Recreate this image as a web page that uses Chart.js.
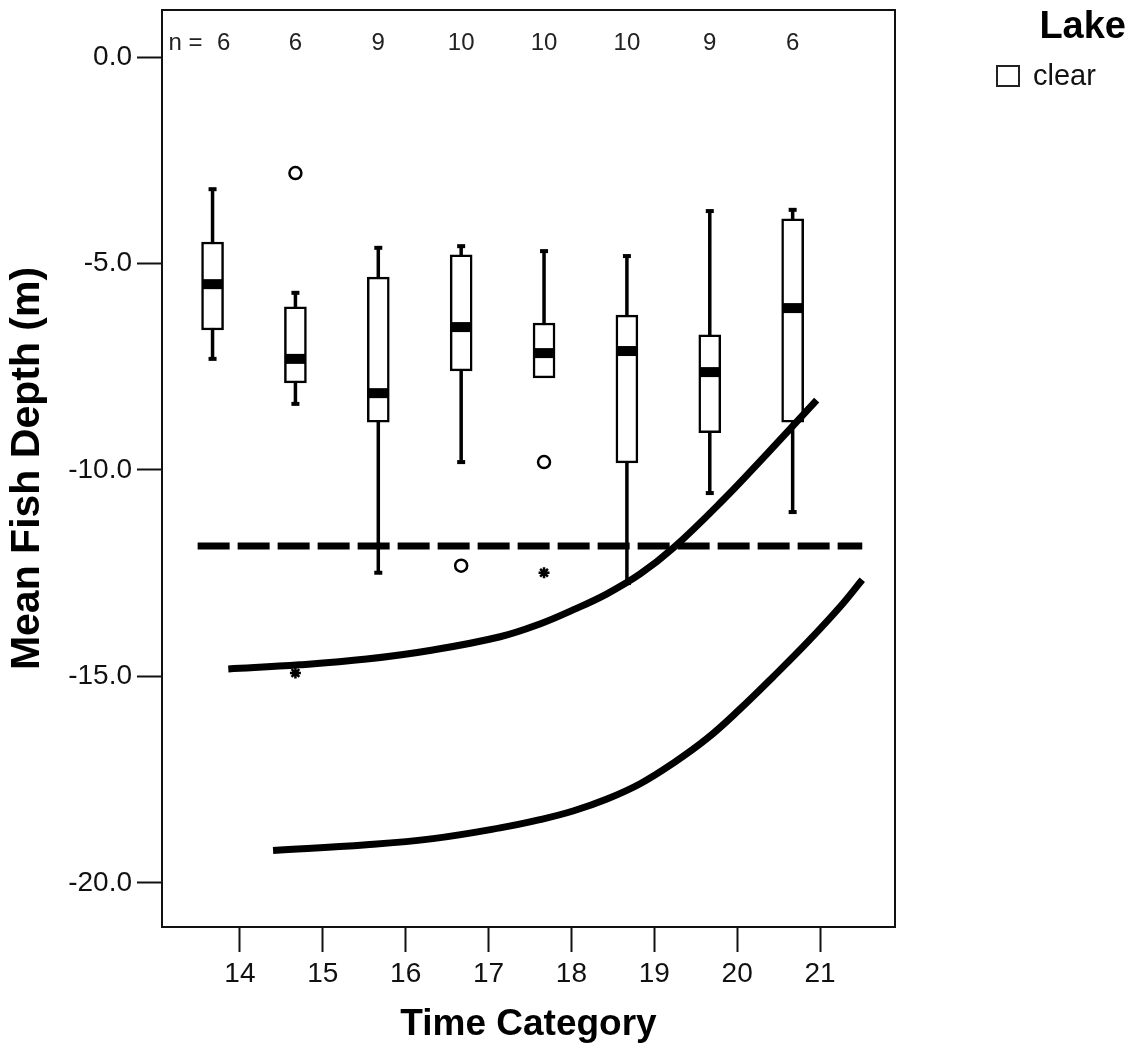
<!DOCTYPE html>
<html>
<head>
<meta charset="utf-8">
<script src="https://cdn.jsdelivr.net/npm/chart.js@4.4.1/dist/chart.umd.min.js"></script>
<style>
  html, body { margin: 0; padding: 0; background: #fff; }
  #wrap { width: 1138px; height: 1052px; }
</style>
</head>
<body>
<div id="wrap"><canvas id="fishChart" width="1138" height="1052"></canvas></div>
<script>
// Tick labels
const timeTicks = [14, 15, 16, 17, 18, 19, 20, 21];
const depthTicks = [0, -5, -10, -15, -20];

// Box plot per time category (values in m)
const boxPos = [13.67, 14.67, 15.67, 16.67, 17.67, 18.67, 19.67, 20.67];
const counts = [6, 6, 9, 10, 10, 10, 9, 6];
const whiskerMax = [-3.20, -5.71, -4.62, -4.58, -4.70, -4.82, -3.73, -3.70];
const q3 = [-4.48, -6.05, -5.33, -4.79, -6.44, -6.25, -6.73, -3.92];
const median = [-5.50, -7.31, -8.14, -6.54, -7.17, -7.12, -7.63, -6.08];
const q1 = [-6.61, -7.89, -8.84, -7.60, -7.77, -9.83, -9.10, -8.84];
const whiskerMin = [-7.31, -8.40, -12.49, -9.81, -7.77, -12.74, -10.56, -11.02];

// Outliers (o) and extremes (*)
const outlierX = [14.67, 16.67, 17.67];
const outlierY = [-2.81, -12.32, -9.81];
const extremeX = [14.67, 17.67];
const extremeY = [-14.92, -12.49];

// Dashed reference depth
const refX = [13.49, 21.51];
const refY = [-11.84, -11.84];

// Upper curve
const upperX = [13.86, 14.72, 15.53, 16.33, 17.14, 17.62, 18.02, 18.43, 18.83, 19.23, 19.83, 20.36, 20.96];
const upperY = [-14.82, -14.72, -14.58, -14.36, -14.04, -13.73, -13.39, -13.00, -12.52, -11.89, -10.73, -9.61, -8.31];

// Lower curve
const lowerX = [14.40, 15.53, 16.33, 17.14, 17.62, 18.02, 18.43, 18.83, 19.23, 19.64, 20.03, 20.43, 20.84, 21.24, 21.51];
const lowerY = [-19.22, -19.08, -18.93, -18.67, -18.47, -18.26, -17.97, -17.60, -17.10, -16.50, -15.80, -15.02, -14.19, -13.32, -12.66];

const FONT = '"Liberation Sans", Arial, Helvetica, sans-serif';
Chart.defaults.font.family = FONT;
Chart.defaults.color = '#111';

const toPoints = (xs, ys) => xs.map((x, i) => ({ x: x, y: ys[i] }));

// whiskers as vertical segments separated by gaps
const whiskerData = boxPos.flatMap((p, i) => [
    { x: p, y: whiskerMin[i] },
    { x: p, y: whiskerMax[i] },
    { x: p, y: null }
]);

const capData = [];
boxPos.forEach((p, i) => {
    if (whiskerMax[i] !== q3[i]) capData.push({ x: p, y: whiskerMax[i] });
    if (whiskerMin[i] !== q1[i]) capData.push({ x: p, y: whiskerMin[i] });
});

// frame, n labels and legend
const extrasPlugin = {
    id: 'extras',
    afterDraw(chart) {
        const { ctx, chartArea: a, scales: { x } } = chart;
        ctx.save();
        ctx.strokeStyle = '#111';
        ctx.lineWidth = 2;
        ctx.strokeRect(a.left, a.top, a.right - a.left, a.bottom - a.top);

        ctx.fillStyle = '#222';
        ctx.font = '24px ' + FONT;
        ctx.textAlign = 'center';
        ctx.textBaseline = 'middle';
        const ny = a.top + 33;
        counts.forEach((n, i) => {
            const px = x.getPixelForValue(boxPos[i]);
            if (i === 0) {
                ctx.fillText('n =', px - 27, ny);
                ctx.fillText(String(n), px + 11, ny);
            } else {
                ctx.fillText(String(n), px, ny);
            }
        });

        // legend
        ctx.fillStyle = '#000';
        ctx.textAlign = 'right';
        ctx.textBaseline = 'alphabetic';
        ctx.font = 'bold 38px ' + FONT;
        ctx.fillText('Lake', 1126, 38);

        ctx.fillStyle = '#fff';
        ctx.fillRect(997, 66, 22, 20);
        ctx.strokeStyle = '#222';
        ctx.lineWidth = 2;
        ctx.strokeRect(997, 66, 22, 20);

        ctx.fillStyle = '#111';
        ctx.textAlign = 'left';
        ctx.font = '29px ' + FONT;
        ctx.fillText(chart.data.datasets[1].label, 1033, 85);
        ctx.restore();
    }
};

const ctx = document.getElementById('fishChart').getContext('2d');
new Chart(ctx, {
    type: 'scatter',
    data: {
        datasets: [
            {
                type: 'line',
                label: 'whiskers',
                data: whiskerData,
                borderColor: '#000',
                borderWidth: 3.5,
                pointRadius: 0,
                spanGaps: false,
                order: 6
            },
            {
                type: 'bar',
                label: 'clear',
                data: boxPos.map((p, i) => ({ x: p, y: [q1[i], q3[i]] })),
                backgroundColor: '#fff',
                borderColor: '#000',
                borderWidth: 2.5,
                borderSkipped: false,
                barThickness: 22,
                order: 5
            },
            {
                label: 'median',
                data: toPoints(boxPos, median),
                pointStyle: 'line',
                pointRadius: 10.5,
                pointBorderWidth: 10,
                pointBorderColor: '#000',
                order: 3
            },
            {
                label: 'caps',
                data: capData,
                pointStyle: 'line',
                pointRadius: 4,
                pointBorderWidth: 4,
                pointBorderColor: '#000',
                order: 3
            },
            {
                label: 'outliers',
                data: toPoints(outlierX, outlierY),
                pointStyle: 'circle',
                pointRadius: 6,
                pointBorderWidth: 2.5,
                pointBorderColor: '#000',
                pointBackgroundColor: '#fff',
                order: 2
            },
            {
                label: 'extremes',
                data: toPoints(extremeX, extremeY),
                pointStyle: 'star',
                pointRadius: 5.5,
                pointBorderWidth: 2.5,
                pointBorderColor: '#000',
                order: 2
            },
            {
                type: 'line',
                label: 'reference',
                data: toPoints(refX, refY),
                borderColor: '#000',
                borderWidth: 7,
                borderDash: [32, 8],
                pointRadius: 0,
                order: 1
            },
            {
                type: 'line',
                label: 'upper',
                data: toPoints(upperX, upperY),
                borderColor: '#000',
                borderWidth: 7,
                tension: 0.4,
                pointRadius: 0,
                order: 1
            },
            {
                type: 'line',
                label: 'lower',
                data: toPoints(lowerX, lowerY),
                borderColor: '#000',
                borderWidth: 7,
                tension: 0.4,
                pointRadius: 0,
                order: 1
            }
        ]
    },
    options: {
        responsive: false,
        animation: false,
        events: [],
        layout: {
            autoPadding: false,
            padding: { top: 10, right: 243, left: 0, bottom: 0 }
        },
        plugins: {
            legend: { display: false },
            tooltip: { enabled: false }
        },
        scales: {
            x: {
                type: 'linear',
                min: 13.06,
                max: 21.905,
                offset: false,
                afterBuildTicks: (scale) => {
                    scale.ticks = timeTicks.map(v => ({ value: v }));
                },
                afterFit: (scale) => {
                    scale.height = 125;
                },
                ticks: {
                    font: { size: 28, lineHeight: 1.2 },
                    color: '#111',
                    padding: 5,
                    maxRotation: 0,
                    callback: (v) => String(v)
                },
                grid: {
                    offset: false,
                    drawOnChartArea: false,
                    drawTicks: true,
                    tickLength: 25,
                    tickWidth: 2,
                    tickColor: '#111'
                },
                border: { display: false },
                title: {
                    display: true,
                    text: 'Time Category',
                    color: '#000',
                    font: { size: 37, weight: 'bold', lineHeight: 1 },
                    padding: { top: 0, bottom: 8.5 }
                }
            },
            y: {
                type: 'linear',
                min: -21.07,
                max: 1.14,
                afterBuildTicks: (scale) => {
                    scale.ticks = depthTicks.map(v => ({ value: v }));
                },
                afterFit: (scale) => {
                    scale.width = 162;
                },
                ticks: {
                    // small lineHeight keeps the label padding from pushing the plot down
                    font: { size: 28, lineHeight: 0.3 },
                    color: '#111',
                    padding: 5,
                    callback: (v) => v.toFixed(1)
                },
                grid: {
                    drawOnChartArea: false,
                    drawTicks: true,
                    tickLength: 25,
                    tickWidth: 2,
                    tickColor: '#111'
                },
                border: { display: false },
                title: {
                    display: true,
                    text: 'Mean Fish Depth (m)',
                    color: '#000',
                    font: { size: 41, weight: 'bold', lineHeight: 1 },
                    padding: { top: 7.5, bottom: 0 }
                }
            }
        }
    },
    plugins: [extrasPlugin]
});
</script>
</body>
</html>
